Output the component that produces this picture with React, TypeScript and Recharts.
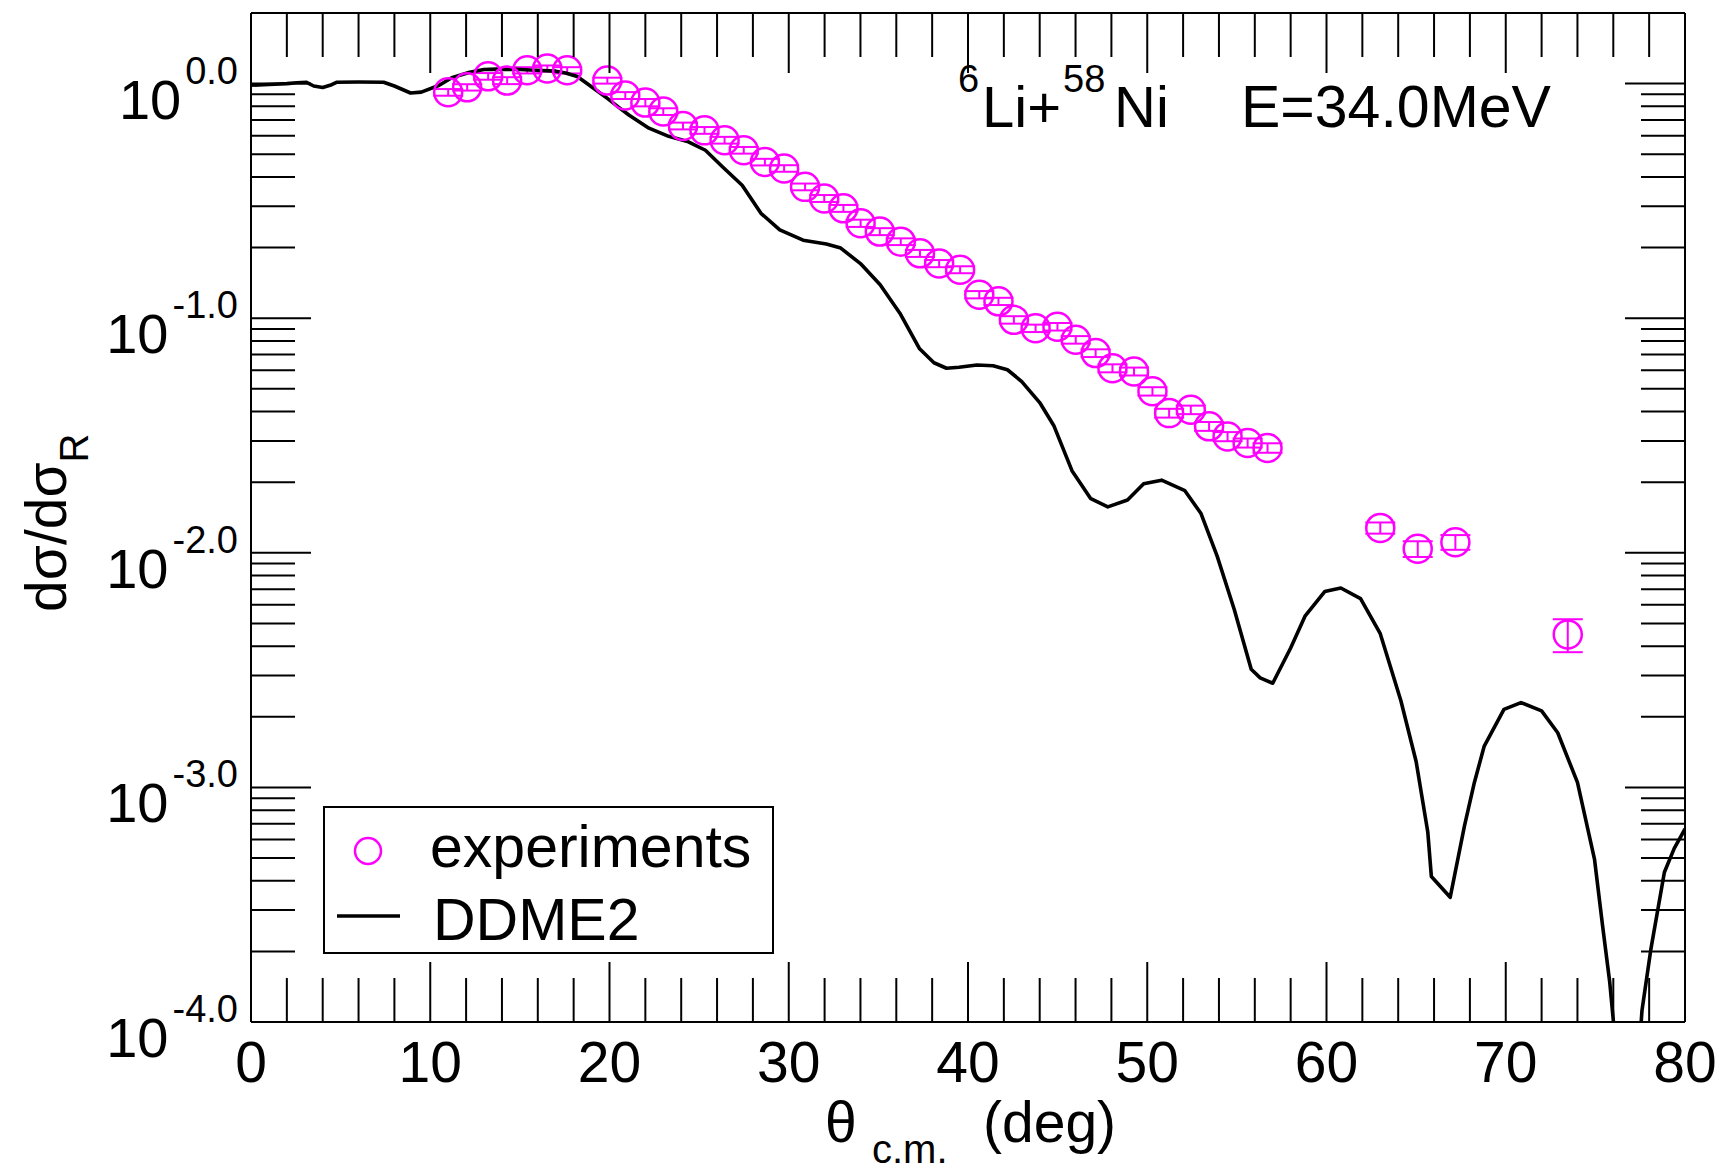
import {
  ComposedChart,
  Line,
  Scatter,
  XAxis,
  YAxis,
  ErrorBar,
  Legend,
  Customized,
} from "recharts";

const FONT = '"Liberation Sans", Arial, Helvetica, sans-serif';
const MAGENTA = "#ff00ff";

// DDME2 folding-model curve, theta c.m. (deg) vs dsigma/dsigma_R
const THEORY_THETA = [
  0, 1, 2, 2.55, 3.1, 3.5, 4, 4.5, 4.8, 6, 7.4, 8, 8.9, 9.5, 10.5, 11.2, 12.2,
  13, 13.7, 15, 15.85, 17, 17.55, 18.2, 18.63, 19.3, 19.9, 20.5, 21.1, 22.2,
  23.3, 24.4, 25.35, 26.3, 27.4, 28.45, 29.5, 30.8, 32.1, 32.9, 34, 35.1, 36.2,
  37.3, 38.1, 38.8, 39.5, 40.5, 41.4, 42.2, 43, 44, 44.8, 45.8, 46.85, 47.8,
  48.9, 49.8, 50.8, 52.1, 53, 53.9, 54.85, 55.8, 56.3, 57, 58, 58.8, 59.9, 60.8,
  61.9, 63, 64.15, 65, 65.65, 65.85, 66.9, 67.7, 68.25, 68.8, 69.9, 70.85, 72,
  72.9, 74, 74.95, 75.4, 75.8, 76.5, 77.2, 77.6, 78.1, 78.85, 79.4, 80,
];
const THEORY_RATIO = [
  0.984, 0.991, 1.0, 1.009, 1.012, 0.977, 0.962, 0.989, 1.014, 1.016, 1.014,
  0.977, 0.912, 0.92, 0.984, 1.059, 1.119, 1.148, 1.153, 1.148, 1.14, 1.13,
  1.109, 1.072, 1.016, 0.933, 0.863, 0.794, 0.733, 0.646, 0.596, 0.565, 0.52,
  0.442, 0.369, 0.28, 0.238, 0.215, 0.207, 0.199, 0.171, 0.139, 0.105, 0.0741,
  0.0646, 0.0612, 0.0618, 0.0632, 0.0627, 0.0603, 0.0537, 0.0437, 0.0347,
  0.0224, 0.017, 0.0157, 0.0168, 0.0197, 0.0204, 0.0184, 0.0147, 0.00968,
  0.00575, 0.00319, 0.00293, 0.00278, 0.00393, 0.00537, 0.00684, 0.00708,
  0.00638, 0.00452, 0.00234, 0.00129, 0.000646, 0.000417, 0.00034, 0.000687,
  0.00105, 0.0015, 0.00215, 0.0023, 0.00212, 0.00171, 0.00105, 0.000495,
  0.000258, 0.000148, 0.00004, 0.00004, 0.000112, 0.000205, 0.000435, 0.00055,
  0.000665,
];

// measured elastic scattering
const EXP_THETA = [
  11.0, 12.06, 13.23, 14.29, 15.41, 16.53, 17.64, 19.88, 20.88, 22.0, 23.0,
  24.1, 25.3, 26.42, 27.49, 28.67, 29.74, 30.91, 31.98, 33.05, 34.01, 35.08,
  36.25, 37.32, 38.39, 39.56, 40.63, 41.7, 42.56, 43.77, 44.99, 46.01, 47.12,
  48.06, 49.26, 50.29, 51.22, 52.43, 53.45, 54.48, 55.6, 56.71, 63.0, 65.09,
  67.19, 73.46,
];
const EXP_RATIO = [
  0.918, 0.964, 1.074, 1.03, 1.14, 1.16, 1.14, 1.03, 0.89, 0.83, 0.76, 0.66,
  0.632, 0.574, 0.52, 0.463, 0.435, 0.363, 0.324, 0.294, 0.254, 0.234, 0.212,
  0.189, 0.171, 0.161, 0.126, 0.118, 0.0984, 0.0906, 0.092, 0.0809, 0.071,
  0.0612, 0.0593, 0.0488, 0.0394, 0.0407, 0.0346, 0.0313, 0.0294, 0.028,
  0.01277, 0.0104, 0.0111, 0.00449,
];
const EXP_ERR = [
  0.03, 0.03, 0.035, 0.035, 0.035, 0.035, 0.035, 0.03, 0.03, 0.03, 0.025,
  0.022, 0.021, 0.019, 0.017, 0.015, 0.014, 0.012, 0.011, 0.01, 0.009, 0.008,
  0.007, 0.0065, 0.006, 0.0055, 0.0045, 0.0042, 0.0036, 0.0033, 0.0034, 0.003,
  0.0027, 0.0024, 0.0023, 0.002, 0.0017, 0.0017, 0.0015, 0.0014, 0.0013,
  0.0013, 0.0007, 0.0008, 0.0008, 0.00072,
];

const X_MAJOR = [0, 10, 20, 30, 40, 50, 60, 70, 80];
const X_TICKS = [
  0, 2, 4, 6, 8, 10, 12, 14, 16, 18, 20, 22, 24, 26, 28, 30, 32, 34, 36, 38, 40,
  42, 44, 46, 48, 50, 52, 54, 56, 58, 60, 62, 64, 66, 68, 70, 72, 74, 76, 78, 80,
];
const Y_MAJOR = [1e-4, 1e-3, 1e-2, 1e-1, 1];
const Y_MAJOR_LABELS = ["-4.0", "-3.0", "-2.0", "-1.0", "0.0"];
const Y_MINOR_STEPS = [2, 3, 4, 5, 6, 7, 8, 9];

const theory = THEORY_THETA.map((x, i) => ({ x, y: THEORY_RATIO[i] }));
const experiment = EXP_THETA.map((x, i) => ({ x, y: EXP_RATIO[i], err: EXP_ERR[i] }));
const yTicks = [
  ...Y_MAJOR,
  ...Y_MAJOR.slice(0, -1).flatMap((d) => Y_MINOR_STEPS.map((m) => m * d)),
].sort((a, b) => a - b);

const MAJOR_LEN = 60;
const MINOR_LEN = 44;

function BottomTick({ x, y, payload }: any) {
  const major = X_MAJOR.includes(payload.value);
  return (
    <g>
      <line x1={x} x2={x} y1={y} y2={y - (major ? MAJOR_LEN : MINOR_LEN)} stroke="#000" strokeWidth={2} />
      {major && (
        <text x={x} y={y + 60} textAnchor="middle" fontSize={57} fill="#000">
          {payload.value}
        </text>
      )}
    </g>
  );
}

function TopTick({ x, y, payload }: any) {
  const major = X_MAJOR.includes(payload.value);
  return <line x1={x} x2={x} y1={y} y2={y + (major ? MAJOR_LEN : MINOR_LEN)} stroke="#000" strokeWidth={2} />;
}

function LeftTick({ x, y, payload }: any) {
  const idx = Y_MAJOR.indexOf(payload.value);
  const major = idx >= 0;
  return (
    <g>
      <line x1={x} x2={x + (major ? MAJOR_LEN : MINOR_LEN)} y1={y} y2={y} stroke="#000" strokeWidth={2} />
      {major && (
        <text x={x - 13} y={y + 35} textAnchor="end" fontSize={56} fill="#000">
          10
          <tspan dx={4} dy={-35} fontSize={38}>
            {Y_MAJOR_LABELS[idx]}
          </tspan>
        </text>
      )}
    </g>
  );
}

function RightTick({ x, y, payload }: any) {
  const major = Y_MAJOR.includes(payload.value);
  return <line x1={x} x2={x - (major ? MAJOR_LEN : MINOR_LEN)} y1={y} y2={y} stroke="#000" strokeWidth={2} />;
}

function LegendBox({ payload }: any) {
  const items = [...(payload ?? [])].sort(
    (a: any, b: any) => (a.type === "line" ? 1 : 0) - (b.type === "line" ? 1 : 0)
  );
  return (
    <svg width={451} height={148} style={{ display: "block", fontFamily: FONT }}>
      <rect x={1} y={1} width={449} height={146} fill="#fff" stroke="#000" strokeWidth={2} />
      {items.map((item: any, i: number) => {
        const baseY = i === 0 ? 61 : 134;
        return (
          <g key={item.value}>
            {item.type === "line" ? (
              <line x1={14} x2={77} y1={110} y2={110} stroke={item.color} strokeWidth={3.5} />
            ) : (
              <circle cx={45} cy={45} r={13} fill="none" stroke={item.color} strokeWidth={2.5} />
            )}
            <text x={i === 0 ? 107 : 110} y={baseY} fontSize={59} fill="#000">
              {item.value}
            </text>
          </g>
        );
      })}
    </svg>
  );
}

function Annotations() {
  return (
    <g fill="#000">
      <text x={958} y={92} fontSize={38}>6</text>
      <text x={982} y={127} fontSize={58}>Li+</text>
      <text x={1063} y={92} fontSize={38}>58</text>
      <text x={1114} y={127} fontSize={58}>Ni</text>
      <text x={1241} y={127} fontSize={59}>E=34.0MeV</text>
      <text x={825} y={1142} fontSize={57}>θ</text>
      <text x={872} y={1163} fontSize={40}>c.m.</text>
      <text x={983} y={1142} fontSize={57}>(deg)</text>
      <text x={66} y={612} fontSize={57} transform="rotate(-90, 66, 612)">
        dσ/dσ
        <tspan dy={22} fontSize={40}>R</tspan>
      </text>
    </g>
  );
}

const AXIS_LINE = { stroke: "#000", strokeWidth: 2 };

export default function App() {
  return (
    <div style={{ position: "absolute", left: 0, top: 0, fontFamily: FONT, background: "#fff" }}>
      <ComposedChart
        width={1724}
        height={1172}
        margin={{ top: 12, right: 38, bottom: 149, left: 250 }}
      >
        <XAxis
          xAxisId="bottom"
          dataKey="x"
          type="number"
          domain={[0, 80]}
          ticks={X_TICKS}
          interval={0}
          allowDataOverflow
          height={1}
          tickSize={0}
          tickMargin={0}
          tickLine={false}
          axisLine={AXIS_LINE}
          tick={<BottomTick />}
        />
        <XAxis
          xAxisId="top"
          orientation="top"
          dataKey="x"
          type="number"
          domain={[0, 80]}
          ticks={X_TICKS}
          interval={0}
          allowDataOverflow
          height={1}
          tickSize={0}
          tickMargin={0}
          tickLine={false}
          axisLine={AXIS_LINE}
          tick={<TopTick />}
        />
        <YAxis
          yAxisId="left"
          dataKey="y"
          type="number"
          scale="log"
          domain={[1e-4, 2]}
          ticks={yTicks}
          interval={0}
          allowDataOverflow
          width={1}
          tickSize={0}
          tickMargin={0}
          tickLine={false}
          axisLine={AXIS_LINE}
          tick={<LeftTick />}
        />
        <YAxis
          yAxisId="right"
          orientation="right"
          dataKey="y"
          type="number"
          scale="log"
          domain={[1e-4, 2]}
          ticks={yTicks}
          interval={0}
          allowDataOverflow
          width={1}
          tickSize={0}
          tickMargin={0}
          tickLine={false}
          axisLine={AXIS_LINE}
          tick={<RightTick />}
        />
        <Scatter
          name="experiments"
          data={experiment}
          xAxisId="bottom"
          yAxisId="left"
          dataKey="y"
          fill={MAGENTA}
          stroke={MAGENTA}
          isAnimationActive={false}
          shape={(p: any) => (
            <circle cx={p.cx} cy={p.cy} r={14} fill="none" stroke={MAGENTA} strokeWidth={2.5} />
          )}
        >
          <ErrorBar dataKey="err" direction="y" width={15} stroke={MAGENTA} strokeWidth={2} />
        </Scatter>
        <Line
          name="DDME2"
          data={theory}
          xAxisId="bottom"
          yAxisId="left"
          dataKey="y"
          type="linear"
          stroke="#000"
          strokeWidth={3.6}
          strokeLinejoin="round"
          dot={false}
          activeDot={false}
          legendType="line"
          isAnimationActive={false}
        />
        <Legend
          layout="horizontal"
          verticalAlign="middle"
          align="center"
          content={<LegendBox />}
          wrapperStyle={{ left: 323, top: 806, width: 451, height: 148 }}
        />
        <Customized component={<Annotations />} />
      </ComposedChart>
    </div>
  );
}
